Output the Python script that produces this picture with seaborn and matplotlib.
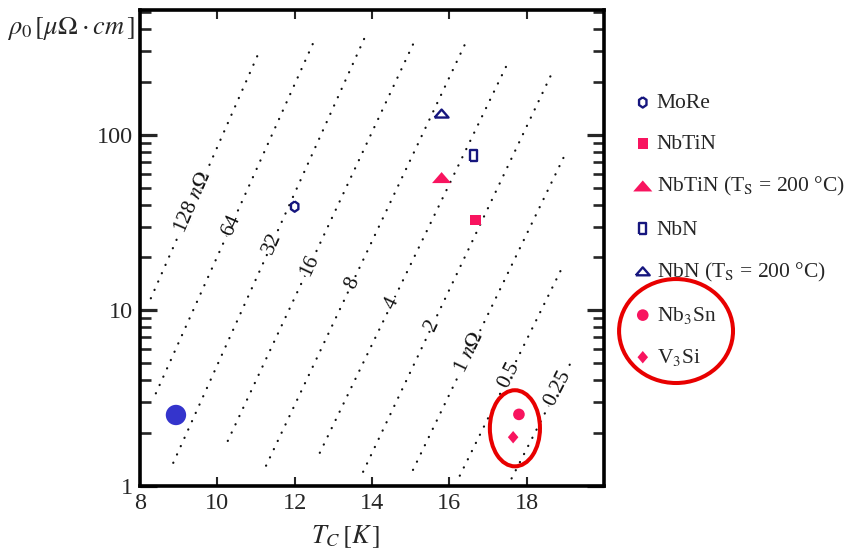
import numpy as np
import matplotlib
matplotlib.use("Agg")
import matplotlib.pyplot as plt
from matplotlib.patches import Ellipse
from matplotlib.ticker import LogLocator, NullFormatter, FixedLocator
import seaborn as sns

# ---------------- data ----------------
materials = ["MoRe", "NbTiN", "NbTiN (T$_\\mathrm{S}$ = 200 °C)", "NbN",
             "NbN (T$_\\mathrm{S}$ = 200 °C)", "Nb$_3$Sn", "V$_3$Si"]
tc_values = [12.0, 16.68, 15.80, 16.63, 15.80, 17.80, 17.65]
rho_values = [39.0, 32.6, 56.9, 76.6, 132.0, 2.55, 1.89]

nb_tc = [8.93]
nb_rho = [2.53]

contour_labels = ["128 $n\\Omega$", "64", "32", "16", "8", "4", "2", "1 $n\\Omega$", "0.5", "0.25"]
contour_tc_low = [8.28, 8.41, 8.86, 10.27, 11.26, 12.65, 13.77, 15.06, 16.27, 17.61]
contour_rho_low = [11.7, 3.36, 1.35, 1.80, 1.30, 1.54, 1.20, 1.23, 1.14, 1.10]
contour_tc_high = [11.10, 12.50, 13.87, 15.11, 16.40, 17.52, 18.69, 18.95, 18.96, 19.16]
contour_rho_high = [304, 342, 383, 346, 327, 259, 234, 73.9, 18.3, 5.13]
contour_label_rho = [41.5, 30.6, 24.2, 18.1, 14.3, 11.0, 8.24, 5.79, 4.27, 3.6]

x_ticks = [8, 10, 12, 14, 16, 18]
y_ticks = [1, 10, 100]
y_tick_labels = ["1", "10", "100"]

# ---------------- style ----------------
sns.set_style("ticks")
plt.rcParams["font.family"] = ["Liberation Serif", "DejaVu Serif"]
plt.rcParams["mathtext.fontset"] = "stix"

navy = "#16167E"
pink = "#F8145F"
blue = "#3434CC"
red = "#E80000"

hexv = [(0, 1), (0.72, 0.5), (0.72, -0.5), (0, -1), (-0.72, -0.5), (-0.72, 0.5), (0, 1)]
rectv = [(-0.62, -1), (0.62, -1), (0.62, 1), (-0.62, 1), (-0.62, -1)]
triflat = [(-1, -0.55), (1, -0.55), (0, 0.6), (-1, -0.55)]
diam = [(0, 1), (0.85, 0), (0, -1), (-0.85, 0), (0, 1)]

styles = [
    dict(marker=hexv, s=55, color=navy, facecolor="none", edgecolor=navy, linewidth=1.7),
    dict(marker="s", s=55, color=pink, edgecolor="none", linewidth=0),
    dict(marker=triflat, s=190, color=pink, edgecolor="none", linewidth=0),
    dict(marker=rectv, s=62, color=navy, facecolor="none", edgecolor=navy, linewidth=1.7),
    dict(marker=triflat, s=100, color=navy, facecolor="none", edgecolor=navy, linewidth=1.7),
    dict(marker="o", s=70, color=pink, edgecolor="none", linewidth=0),
    dict(marker=diam, s=80, color=pink, edgecolor="none", linewidth=0),
]

fig = plt.figure(figsize=(8.44, 5.53), dpi=100)
fig.patch.set_facecolor("white")
ax = fig.add_axes([140 / 844, 1 - 485.7 / 553, 464 / 844, 475.7 / 553])
ax.set_yscale("log")
ax.set_xlim(8, 20)
ax.set_ylim(1, 515)

# ---------------- contour lines ----------------
for lab, t0, r0, t1, r1, rl in zip(contour_labels, contour_tc_low, contour_rho_low,
                                   contour_tc_high, contour_rho_high, contour_label_rho):
    ax.plot([t0, t1], [r0, r1], color="#111111", lw=1.6,
            linestyle=(0, (0.1, 4.0)), dash_capstyle="round", zorder=1)
    frac = (np.log10(rl) - np.log10(r0)) / (np.log10(r1) - np.log10(r0))
    tl = t0 + frac * (t1 - t0)
    p0 = ax.transData.transform((t0, r0))
    p1 = ax.transData.transform((t1, r1))
    ang = np.degrees(np.arctan2(p1[1] - p0[1], p1[0] - p0[0]))
    ax.text(tl, rl, lab, rotation=ang, rotation_mode="anchor", ha="center", va="center",
            fontsize=15.5, color="#111111", zorder=2,
            bbox=dict(boxstyle="square,pad=0.05", fc="white", ec="none"))

# ---------------- points ----------------
sns.scatterplot(x=nb_tc, y=nb_rho, ax=ax, marker="o", s=215, color=blue,
                edgecolor="none", linewidth=0, zorder=3)
for name, tc, rho, st in zip(materials, tc_values, rho_values, styles):
    sns.scatterplot(x=[tc], y=[rho], ax=ax, label=name, zorder=4, **st)

# ---------------- axes styling ----------------
for sp in ax.spines.values():
    sp.set_linewidth(2.6)
    sp.set_color("black")
ax.xaxis.set_major_locator(FixedLocator(x_ticks))
ax.set_xticklabels([str(v) for v in x_ticks])
ax.set_yticks(y_ticks)
ax.set_yticklabels(y_tick_labels)
ax.yaxis.set_minor_locator(LogLocator(base=10, subs=np.arange(2, 10)))
ax.yaxis.set_minor_formatter(NullFormatter())
ax.tick_params(axis="x", which="major", direction="in", length=6.5, width=1.5,
               top=True, bottom=True, labelsize=17.5, pad=5)
ax.tick_params(axis="x", which="minor", bottom=False, top=False)
ax.tick_params(axis="y", which="major", direction="in", length=12, width=2.3,
               left=True, right=True, labelsize=17.5, pad=5)
ax.tick_params(axis="y", which="minor", direction="in", length=8, width=1.9,
               left=True, right=True)

ax.set_xlabel("$T_C\\,[K\\,]$", fontsize=19)
ax.xaxis.set_label_coords(0.444, -0.108)
ax.xaxis.label.set_va("center")
ax.set_ylabel("$\\rho_0\\,[\\mu\\Omega\\cdot cm\\,]$", fontsize=19, rotation=0,
              ha="right", va="center")
ax.yaxis.set_label_coords(-0.012, 0.962)

# ---------------- legend ----------------
ax.legend(loc="upper left", bbox_to_anchor=(632 / 844, 1 - 93 / 553),
          bbox_transform=fig.transFigure, frameon=False, fontsize=15.5,
          handlelength=1.0, handletextpad=0.15, labelspacing=0.98,
          borderpad=0, borderaxespad=0, scatterpoints=1)

# ---------------- highlight ellipses ----------------
ax.add_patch(Ellipse((0.808, 0.1207), 0.108, 0.160, transform=ax.transAxes,
                     fill=False, ec=red, lw=2.9, zorder=5, clip_on=False))
fig.add_artist(Ellipse((0.801, 0.4014), 0.135, 0.188, transform=fig.transFigure,
                       fill=False, ec=red, lw=2.9))

fig.savefig("out.png", dpi=100, facecolor="white")
